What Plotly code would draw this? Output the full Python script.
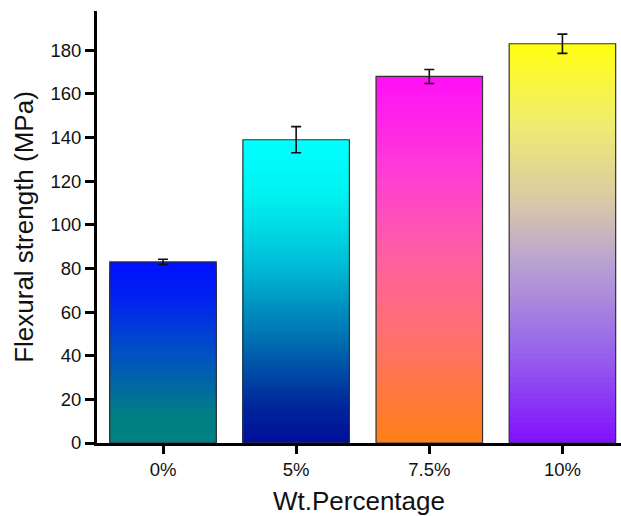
import plotly.graph_objects as go

categories = ["0%", "5%", "7.5%", "10%"]
strength = [83, 139, 168, 183]
error = [1.2, 6, 3.2, 4.4]

# gradient stops per bar: (fraction from bottom, colour)
gradients = [
    [(0.0, "#008080"), (0.15, "#007f84"), (0.5, "#0050c4"), (0.8, "#0022f0"), (1.0, "#0010ff")],
    [(0.0, "#000f99"), (0.12, "#00259a"), (0.35, "#0072b2"), (0.6, "#00c0d8"), (0.82, "#00f2f2"), (1.0, "#00ffff")],
    [(0.0, "#ff8018"), (0.3, "#ff7070"), (0.5, "#ff60a0"), (0.72, "#ff40d2"), (1.0, "#ff10f8")],
    [(0.0, "#8010ff"), (0.25, "#9a6ae8"), (0.45, "#b8a2d2"), (0.6, "#d8c8a8"), (0.8, "#f0ec70"), (1.0, "#ffff10")],
]


def hex2rgb(h):
    h = h.lstrip("#")
    return [int(h[i:i + 2], 16) for i in (0, 2, 4)]


def interp(stops, f):
    for (f0, c0), (f1, c1) in zip(stops[:-1], stops[1:]):
        if f0 <= f <= f1:
            t = (f - f0) / (f1 - f0) if f1 > f0 else 0
            a, b = hex2rgb(c0), hex2rgb(c1)
            return "rgb(%d,%d,%d)" % tuple(round(a[i] + (b[i] - a[i]) * t) for i in range(3))
    return stops[-1][1]


N = 80
fig = go.Figure()
for k in range(N):
    frac = 1 - k / N
    fig.add_trace(go.Bar(
        x=categories,
        y=[v * frac for v in strength],
        width=0.8,
        marker=dict(color=[interp(g, frac - 0.5 / N) for g in gradients], line=dict(width=0)),
        showlegend=False, hoverinfo="skip",
    ))

fig.add_trace(go.Bar(
    x=categories, y=strength, width=0.8,
    marker=dict(color="rgba(0,0,0,0)", line=dict(color="#333333", width=1.2)),
    error_y=dict(type="data", array=error, visible=True, color="#111111", thickness=1.6, width=5),
    showlegend=False,
))

fig.update_layout(
    width=621, height=516,
    margin=dict(l=97, r=0, t=11, b=73),
    barmode="overlay",
    plot_bgcolor="white", paper_bgcolor="white",
    font=dict(family="Liberation Sans, Arial, sans-serif", color="#111111"),
)
fig.update_xaxes(
    range=[-0.496, 3.44], showline=True, linecolor="black", linewidth=3,
    ticks="outside", ticklen=8, tickwidth=3, tickcolor="black",
    tickfont=dict(size=18.5), showgrid=False, zeroline=False,
    title=dict(text="Wt.Percentage", font=dict(size=26), standoff=18),
)
fig.update_yaxes(
    range=[0, 198], showline=True, linecolor="black", linewidth=3,
    ticks="outside", ticklen=9, tickwidth=3, tickcolor="black",
    tickvals=list(range(0, 181, 20)),
    tickfont=dict(size=18.5), showgrid=False, zeroline=False,
    title=dict(text="Flexural strength (MPa)", font=dict(size=26), standoff=10),
)

fig.write_html("out.html")
